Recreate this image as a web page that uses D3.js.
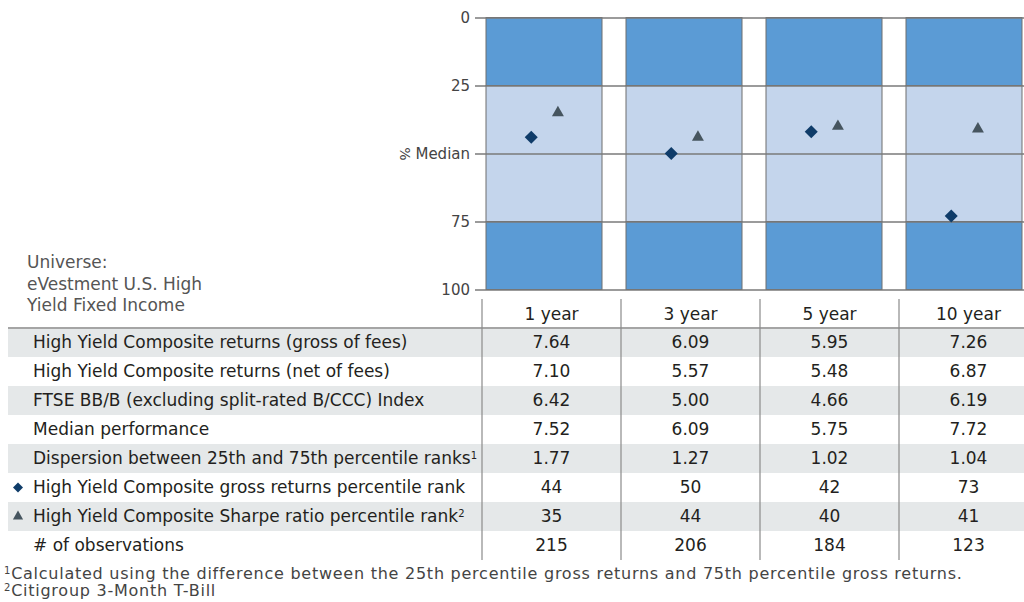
<!DOCTYPE html>
<html>
<head>
<meta charset="utf-8">
<script src="https://cdn.jsdelivr.net/npm/d3@7"></script>
<style>
    body { margin: 0; background: #fff; }
    svg { display: block; font-family: "DejaVu Sans", sans-serif; }
</style>
</head>
<body>
<svg id="chart" width="1024" height="602"></svg>
<script>
    // periods / columns
    var periods = ["1 year", "3 year", "5 year", "10 year"];

    // table rows
    var grossReturns = [7.64, 6.09, 5.95, 7.26];
    var netReturns = [7.10, 5.57, 5.48, 6.87];
    var ftseIndex = [6.42, 5.00, 4.66, 6.19];
    var medianPerf = [7.52, 6.09, 5.75, 7.72];
    var dispersion = [1.77, 1.27, 1.02, 1.04];
    var grossRank = [44, 50, 42, 73];
    var sharpeRank = [35, 44, 40, 41];
    var observations = [215, 206, 184, 123];

    var rowLabels = [
        "High Yield Composite returns (gross of fees)",
        "High Yield Composite returns (net of fees)",
        "FTSE BB/B (excluding split-rated B/CCC) Index",
        "Median performance",
        "Dispersion between 25th and 75th percentile ranks",
        "High Yield Composite gross returns percentile rank",
        "High Yield Composite Sharpe ratio percentile rank",
        "# of observations"
    ];
    var rowNotes = ["", "", "", "", "1", "", "2", ""];

    // percentile axis
    var yTicks = [0, 25, 50, 75, 100];
    var yTickLabels = ["0", "25", "Median", "75", "100"];
    var quartileLo = [0, 25, 75];
    var quartileHi = [25, 75, 100];

    var universeLines = ["Universe:", "eVestment U.S. High", "Yield Fixed Income"];
    var footnotes = [
        ["1", "Calculated using the difference between the 25th percentile gross returns and 75th percentile gross returns."],
        ["2", "Citigroup 3-Month T-Bill"]
    ];

    var darkBlue = "#5b9bd5", lightBlue = "#c4d5ec", gridGrey = "#7a7a7a";
    var diamondColor = "#0f3c69", triangleColor = "#46555f", textColor = "#231f20";

    var svg = d3.select("#chart");

    var y = d3.scaleLinear().domain([0, 100]).range([17.5, 289.5]);
    var x = d3.scaleBand().domain(periods).range([486, 1022])
        .paddingInner(24 / 140).paddingOuter(0);

    // quartile boxes
    var bands = svg.append("g");
    periods.forEach(function (p) {
        bands.selectAll(null).data(quartileLo).enter().append("rect")
            .attr("x", x(p))
            .attr("width", x.bandwidth())
            .attr("y", function (d) { return y(d); })
            .attr("height", function (d, i) { return y(quartileHi[i]) - y(d); })
            .attr("fill", function (d, i) { return i === 1 ? lightBlue : darkBlue; })
            .attr("stroke", "#6e6e6e")
            .attr("stroke-width", 1);
    });

    // y axis + gridlines
    var yAxis = d3.axisLeft(y)
        .tickValues(yTicks)
        .tickSizeInner(-(1024 - 486))
        .tickSizeOuter(0)
        .tickPadding(16)
        .tickFormat(function (d, i) { return yTickLabels[i]; });

    var ga = svg.append("g")
        .attr("transform", "translate(486,0)")
        .call(yAxis);
    ga.select(".domain").remove();
    ga.attr("font-family", "DejaVu Sans, sans-serif").attr("font-size", 15);
    ga.selectAll(".tick line")
        .attr("x1", -11)
        .attr("stroke", gridGrey)
        .attr("stroke-width", 1.5);
    ga.selectAll(".tick text").attr("fill", "#444");

    // sideways % in front of "Median"
    ga.selectAll(".tick").filter(function (d) { return d === 50; }).each(function () {
        var t = d3.select(this);
        var w = t.select("text").node().getComputedTextLength();
        t.append("text")
            .attr("transform", "translate(" + (-16 - w - 11) + ",0) rotate(90)")
            .attr("text-anchor", "middle")
            .attr("dy", "0.35em")
            .attr("fill", "#444")
            .attr("font-size", 14)
            .text("%");
    });

    // rank markers
    var diamond = d3.symbol(d3.symbolSquare, 85);
    var triangle = d3.symbol(d3.symbolTriangle, 62);

    svg.append("g").selectAll("path").data(periods).enter().append("path")
        .attr("d", triangle)
        .attr("fill", triangleColor)
        .attr("transform", function (d, i) {
            return "translate(" + (x(d) + x.bandwidth() * 0.62) + "," + y(sharpeRank[i]) + ")";
        });

    svg.append("g").selectAll("path").data(periods).enter().append("path")
        .attr("d", diamond)
        .attr("fill", diamondColor)
        .attr("transform", function (d, i) {
            return "translate(" + (x(d) + x.bandwidth() * 0.39) + "," + y(grossRank[i]) + ") rotate(45)";
        });

    // universe note
    svg.append("g").selectAll("text").data(universeLines).enter().append("text")
        .attr("x", 27)
        .attr("y", function (d, i) { return 268 + i * 21.5; })
        .attr("font-size", 17)
        .attr("fill", "#555")
        .text(function (d) { return d; });

    // table
    var f2 = d3.format(".2f");
    var rowValues = [
        grossReturns.map(f2), netReturns.map(f2), ftseIndex.map(f2), medianPerf.map(f2),
        dispersion.map(f2), grossRank, sharpeRank, observations
    ];

    var headTop = 299, tableTop = 328, rowH = 29;
    var col = d3.scaleBand().domain(periods).range([482, 482 + 4 * 139]);
    var rowY = d3.scaleBand().domain(d3.range(rowLabels.length))
        .range([tableTop, tableTop + rowLabels.length * rowH]);
    var tableBottom = tableTop + rowLabels.length * rowH;

    var tbl = svg.append("g").attr("font-size", 17).attr("fill", textColor);

    tbl.selectAll(".shade").data(rowLabels.filter(function (d, i) { return i % 2 === 0; }))
        .enter().append("rect")
        .attr("x", 8)
        .attr("y", function (d, i) { return rowY(i * 2); })
        .attr("width", 1024 - 8)
        .attr("height", rowH)
        .attr("fill", "#e5e8e9");

    tbl.append("line")
        .attr("x1", 8).attr("x2", 1024)
        .attr("y1", tableTop).attr("y2", tableTop)
        .attr("stroke", "#a5a5a5").attr("stroke-width", 2);

    tbl.selectAll(".vline").data(periods).enter().append("line")
        .attr("x1", function (d) { return col(d); })
        .attr("x2", function (d) { return col(d); })
        .attr("y1", headTop).attr("y2", tableBottom)
        .attr("stroke", "#8a8a8a").attr("stroke-width", 1.2);

    tbl.selectAll(".head").data(periods).enter().append("text")
        .attr("x", function (d) { return col(d) + col.bandwidth() / 2; })
        .attr("y", 314)
        .attr("dy", "0.35em")
        .attr("text-anchor", "middle")
        .text(function (d) { return d; });

    var rows = tbl.selectAll(".row").data(rowLabels).enter().append("g")
        .attr("transform", function (d, i) { return "translate(0," + (rowY(i) + rowH / 2) + ")"; });

    var lbl = rows.append("text")
        .attr("x", 33)
        .attr("dy", "0.35em");
    lbl.append("tspan").text(function (d) { return d; });
    lbl.append("tspan")
        .attr("font-size", 10)
        .attr("baseline-shift", "super")
        .text(function (d, i) { return rowNotes[i]; });

    rows.each(function (d, i) {
        d3.select(this).selectAll(".val").data(rowValues[i]).enter().append("text")
            .attr("x", function (v, j) { return col(periods[j]) + col.bandwidth() / 2; })
            .attr("dy", "0.35em")
            .attr("text-anchor", "middle")
            .text(function (v) { return v; });
    });

    // legend markers in the label column
    rows.filter(function (d, i) { return i === 5; }).append("path")
        .attr("d", d3.symbol(d3.symbolSquare, 50))
        .attr("fill", diamondColor)
        .attr("transform", "translate(18,0) rotate(45)");
    rows.filter(function (d, i) { return i === 6; }).append("path")
        .attr("d", d3.symbol(d3.symbolTriangle, 45))
        .attr("fill", triangleColor)
        .attr("transform", "translate(18,0)");

    // footnotes
    var fn = svg.append("g").attr("font-size", 16).attr("fill", "#444")
        .attr("letter-spacing", 0.75);
    footnotes.forEach(function (f, i) {
        var t = fn.append("text").attr("x", 4).attr("y", 579 + i * 17);
        t.append("tspan").attr("font-size", 10).attr("baseline-shift", "super").text(f[0]);
        t.append("tspan").attr("baseline-shift", "baseline").text(f[1]);
    });
</script>
</body>
</html>
